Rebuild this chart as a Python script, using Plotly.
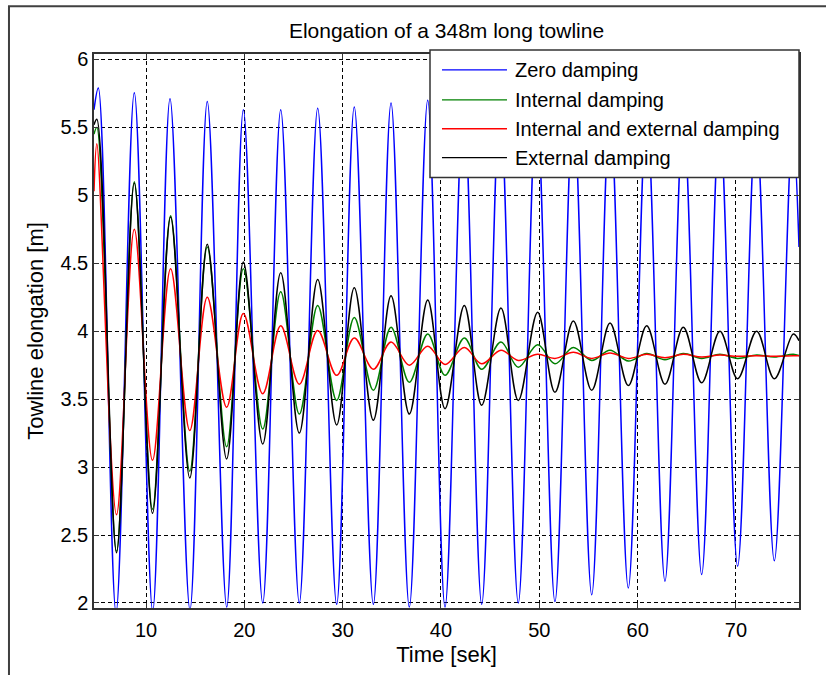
import plotly.graph_objs as go

# extrema (time in s, elongation in m)
T_ZERO = [4.71, 5.15, 6.95, 8.81, 10.68, 12.44, 14.47, 16.23, 18.21, 19.90, 21.87, 23.70, 25.59, 27.46,
          29.39, 31.18, 33.12, 34.92, 36.78, 38.65, 40.41, 42.3, 44.14, 46.0, 47.86, 49.72, 51.59, 53.46,
          55.33, 57.19, 59.05, 60.92, 62.78, 64.65, 66.51, 68.34, 70.17, 72.04, 73.90, 75.76, 76.41]
ZERO = [5.63, 5.79, 1.93, 5.755, 1.94, 5.71, 1.95, 5.69, 1.97, 5.63, 2.0, 5.63, 2.0, 5.64, 1.99, 5.65,
        1.99, 5.68, 1.97, 5.70, 1.97, 5.70, 1.99, 5.68, 2.0, 5.66, 2.01, 5.64, 2.06, 5.62, 2.11, 5.60,
        2.16, 5.58, 2.21, 5.55, 2.27, 5.53, 2.31, 5.50, 4.62]

T_DAMPED = [4.71, 5.0, 7.0, 8.81, 10.66, 12.5, 14.45, 16.23, 18.2, 19.9, 21.87, 23.7, 25.59, 27.46,
            29.39, 31.18, 33.12, 34.92, 36.78, 38.65, 40.41, 42.37, 44.14, 46.1, 47.86, 49.83, 51.59, 53.46,
            55.33, 57.19, 59.05, 60.92, 62.78, 64.64, 66.51, 68.37, 70.17, 72.1, 73.9, 75.83, 76.41]
INTERNAL = [5.45, 5.50, 2.38, 5.10, 2.69, 4.85, 2.97, 4.62, 3.15, 4.46, 3.28, 4.29, 3.39, 4.19, 3.49,
            4.10, 3.565, 4.03, 3.625, 3.98, 3.675, 3.95, 3.72, 3.92, 3.735, 3.90, 3.76, 3.88, 3.785,
            3.86, 3.78, 3.835, 3.79, 3.835, 3.80, 3.83, 3.80, 3.825, 3.81, 3.83, 3.82]
INT_EXT = [5.03, 5.38, 2.65, 4.75, 3.05, 4.46, 3.27, 4.25, 3.44, 4.13, 3.54, 4.04, 3.61, 4.005, 3.675,
           3.95, 3.72, 3.92, 3.75, 3.89, 3.755, 3.88, 3.76, 3.86, 3.785, 3.83, 3.80, 3.845, 3.80, 3.84,
           3.80, 3.83, 3.805, 3.83, 3.81, 3.825, 3.815, 3.82, 3.815, 3.82, 3.82]
EXTERNAL = [5.52, 5.56, 2.37, 5.09, 2.66, 4.84, 2.92, 4.64, 3.06, 4.51, 3.17, 4.43, 3.25, 4.38, 3.31,
            4.32, 3.345, 4.26, 3.39, 4.23, 3.43, 4.19, 3.455, 4.17, 3.49, 4.14, 3.55, 4.075, 3.565,
            4.06, 3.60, 4.04, 3.61, 4.03, 3.62, 4.00, 3.65, 4.00, 3.65, 3.98, 3.93]

SERIES = [
    ("Zero damping", T_ZERO, ZERO, "#0000ff"),
    ("Internal damping", T_DAMPED, INTERNAL, "#008000"),
    ("Internal and external damping", T_DAMPED, INT_EXT, "#ff0000"),
    ("External damping", T_DAMPED, EXTERNAL, "#000000"),
]

X_TICKS = [10, 20, 30, 40, 50, 60, 70]
Y_TICKS = [2, 2.5, 3, 3.5, 4, 4.5, 5, 5.5, 6]

FONT = "Liberation Sans, Arial, sans-serif"

fig = go.Figure()
for name, t, y, color in SERIES:
    fig.add_trace(go.Scatter(x=t, y=y, name=name, mode="lines",
                             line=dict(color=color, width=1.5, shape="spline", smoothing=1),
                             showlegend=False))

axis_style = dict(showline=True, linecolor="#333333", linewidth=1.5, mirror="allticks",
                  ticks="inside", ticklen=5, tickcolor="#333333", zeroline=False,
                  showgrid=True, gridcolor="#000000", gridwidth=1, griddash="4px,3px",
                  tickfont=dict(family=FONT, size=20, color="#000000"))

fig.update_layout(
    width=826, height=675,
    margin=dict(l=94, r=27, t=54, b=65),
    paper_bgcolor="white", plot_bgcolor="white",
    font=dict(family=FONT, size=20, color="#000000"),
    title=dict(text="Elongation of a 348m long towline", x=0.5, xanchor="center",
               xref="paper", y=1 - 31 / 675, yanchor="middle",
               font=dict(family=FONT, size=21, color="#000000")),
    xaxis=dict(range=[4.71, 76.41], tickvals=X_TICKS, ticklabelstandoff=3,
               title=dict(text="Time [sek]", standoff=7, font=dict(family=FONT, size=22)),
               **axis_style),
    yaxis=dict(range=[1.963, 6.04], tickvals=Y_TICKS,
               title=dict(text="Towline elongation [m]", standoff=11, font=dict(family=FONT, size=22)),
               **axis_style),
)

# outer figure frame (left and top edges show)
fig.add_shape(type="rect", xref="paper", yref="paper", x0=-0.1206, x1=1.2, y0=-0.3, y1=1.0863,
              line=dict(color="#404040", width=2), fillcolor="rgba(0,0,0,0)", layer="above")

# legend box in the MATLAB style
fig.add_shape(type="rect", xref="paper", yref="paper", x0=0.4766, x1=1.0, y0=0.777, y1=1.0072,
              line=dict(color="#333333", width=1.5), fillcolor="white", layer="above")
row_y = [0.9712, 0.9173, 0.8651, 0.8129]
for (name, _, _, color), ry in zip(SERIES, row_y):
    fig.add_shape(type="line", xref="paper", yref="paper", x0=0.4936, x1=0.5858, y0=ry, y1=ry,
                  line=dict(color=color, width=1.3), layer="above")
    fig.add_annotation(text=name, xref="paper", yref="paper", x=0.5943, y=ry,
                       xanchor="left", yanchor="middle", showarrow=False,
                       font=dict(family=FONT, size=20, color="#000000"))

fig.write_html("out.html", config={"displayModeBar": False},
               post_script="document.body.style.margin='0';document.body.style.overflow='hidden';")
